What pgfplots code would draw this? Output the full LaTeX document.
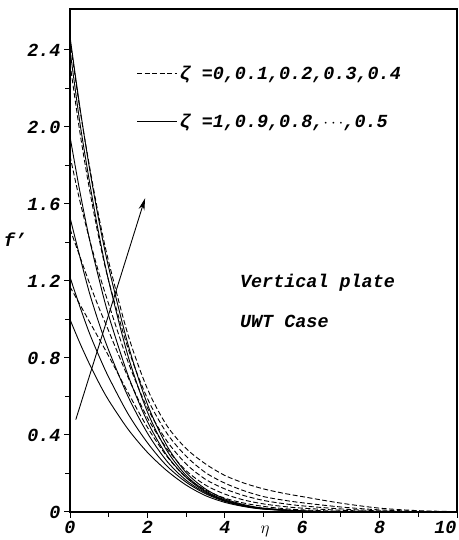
\documentclass[border=0pt]{standalone}
\usepackage{pgfplots}
\pgfplotsset{compat=1.18}
\usepackage{fontspec}
\setmainfont{Liberation Mono}
\usetikzlibrary{arrows.meta}
\newcommand{\fs}{\fontsize{18.5}{18.5}\selectfont\bfseries\itshape}
\begin{document}
\begin{tikzpicture}[x=1bp,y=1bp]
\useasboundingbox (0,0) rectangle (459,540);
\begin{axis}[
  at={(70bp,28bp)}, anchor=south west,
  width=387bp, height=503bp, scale only axis,
  xmin=0, xmax=10, ymin=0, ymax=2.613,
  axis line style={line width=2bp},
  tick align=outside, tick pos=left,
  major tick length=6bp, minor tick length=5bp,
  every tick/.style={line width=1bp, black},
  xtick={0,2,4,6,8,10}, xticklabels={0,2,4,6,8,\makebox[0pt][r]{10}\hspace*{1bp}},
  ytick={0,0.4,0.8,1.2,1.6,2.0,2.4}, yticklabels={0,0.4,0.8,1.2,1.6,2.0,2.4},
  minor xtick={1,3,5,7,9}, minor ytick={0.2,0.6,1.0,1.4,1.8,2.2},
  tick label style={font=\fs},
  /pgf/number format/assume math mode=true,
  legend style={at={(axis cs:1.72,2.33)}, anchor=north west, draw=none, fill=none,
     font=\fs, row sep=30bp, inner sep=0pt,
     legend cell align=left},
  legend image code/.code={\draw[#1] (0bp,0bp) -- (40bp,0bp);},
  every axis plot/.append style={line width=0.9bp, black},
  clip=true,
]
\addlegendimage{line width=0.9bp, dash pattern=on 5bp off 2.5bp}
\addlegendentry{ζ =0,0.1,0.2,0.3,0.4}
\addlegendimage{line width=0.9bp}
\addlegendentry{ζ =1,0.9,0.8,$\cdots$,0.5}
% solid curves
\addplot[smooth, forget plot] coordinates {(0,1.00)(0.25,0.88)(0.5,0.77)(0.75,0.67)(1,0.58)(1.5,0.43)(2,0.31)(2.5,0.215)(3,0.14)(3.5,0.085)(4,0.05)(4.5,0.028)(5,0.015)(6,0.004)(7,0.001)(8,0)(10,0)};
\addplot[smooth, forget plot] coordinates {(0,1.22)(0.25,1.07)(0.5,0.93)(0.75,0.81)(1,0.70)(1.5,0.51)(2,0.36)(2.5,0.24)(3,0.155)(3.5,0.095)(4,0.055)(4.5,0.03)(5,0.016)(6,0.004)(7,0.001)(8,0)(10,0)};
\addplot[smooth, forget plot] coordinates {(0,1.53)(0.25,1.33)(0.5,1.14)(0.75,0.98)(1,0.84)(1.5,0.60)(2,0.41)(2.5,0.265)(3,0.165)(3.5,0.10)(4,0.058)(4.5,0.032)(5,0.017)(6,0.004)(7,0.001)(8,0)(10,0)};
\addplot[smooth, forget plot] coordinates {(0,1.95)(0.25,1.67)(0.5,1.42)(0.75,1.21)(1,1.02)(1.5,0.71)(2,0.47)(2.5,0.295)(3,0.18)(3.5,0.105)(4,0.06)(4.5,0.033)(5,0.018)(6,0.005)(7,0.001)(8,0)(10,0)};
\addplot[smooth, forget plot] coordinates {(0,2.40)(0.25,2.03)(0.5,1.72)(0.75,1.44)(1,1.20)(1.5,0.81)(2,0.52)(2.5,0.32)(3,0.19)(3.5,0.11)(4,0.063)(4.5,0.035)(5,0.019)(6,0.005)(7,0.001)(8,0)(10,0)};
\addplot[smooth, forget plot] coordinates {(0,2.47)(0.25,2.11)(0.5,1.79)(0.75,1.51)(1,1.27)(1.5,0.87)(2,0.56)(2.5,0.345)(3,0.205)(3.5,0.12)(4,0.068)(4.5,0.038)(5,0.02)(6,0.006)(7,0.001)(8,0)(10,0)};
% dashed curves
\addplot[smooth, forget plot, dash pattern=on 5bp off 2.5bp] coordinates {(0,1.17)(0.25,1.08)(0.5,0.99)(0.75,0.90)(1,0.81)(1.5,0.62)(2,0.44)(2.5,0.29)(3,0.18)(3.5,0.115)(4,0.072)(4.5,0.046)(5,0.029)(5.5,0.018)(6,0.011)(7,0.004)(8,0.001)(9,0)(10,0)};
\addplot[smooth, forget plot, dash pattern=on 5bp off 2.5bp] coordinates {(0,1.47)(0.25,1.33)(0.5,1.19)(0.75,1.06)(1,0.94)(1.5,0.70)(2,0.49)(2.5,0.33)(3,0.215)(3.5,0.14)(4,0.093)(4.5,0.062)(5,0.042)(5.5,0.029)(6,0.02)(7,0.009)(8,0.003)(9,0.001)(10,0)};
\addplot[smooth, forget plot, dash pattern=on 5bp off 2.5bp] coordinates {(0,1.85)(0.25,1.62)(0.5,1.42)(0.75,1.24)(1,1.08)(1.5,0.78)(2,0.54)(2.5,0.37)(3,0.25)(3.5,0.17)(4,0.12)(4.5,0.085)(5,0.06)(5.5,0.044)(6,0.032)(7,0.016)(8,0.006)(9,0.002)(10,0)};
\addplot[smooth, forget plot, dash pattern=on 5bp off 2.5bp] coordinates {(0,2.33)(0.25,1.98)(0.5,1.68)(0.75,1.42)(1,1.20)(1.5,0.85)(2,0.59)(2.5,0.41)(3,0.29)(3.5,0.205)(4,0.15)(4.5,0.11)(5,0.08)(5.5,0.062)(6,0.048)(7,0.026)(8,0.011)(9,0.004)(10,0.001)};
\addplot[smooth, forget plot, dash pattern=on 5bp off 2.5bp] coordinates {(0,2.45)(0.25,2.10)(0.5,1.80)(0.75,1.53)(1,1.30)(1.5,0.92)(2,0.64)(2.5,0.45)(3,0.33)(3.5,0.25)(4,0.19)(4.5,0.15)(5,0.12)(5.5,0.098)(6,0.08)(7,0.046)(8,0.02)(9,0.007)(10,0.002)};
% arrow
\draw[-{Stealth[length=12bp,width=6bp]}, line width=0.9bp] (axis cs:0.15,0.48) -- (axis cs:1.94,1.63);
\node[anchor=west, font=\fs, inner sep=0pt] at (axis cs:4.39,1.19) {Vertical plate};
\node[anchor=west, font=\fs, inner sep=0pt] at (axis cs:4.39,0.99) {UWT Case};
\end{axis}
\node at (15,300) {\fs f'};
\node at (265,9) {\fontsize{18.5}{18.5}\selectfont$\eta$};
\end{tikzpicture}
\end{document}
